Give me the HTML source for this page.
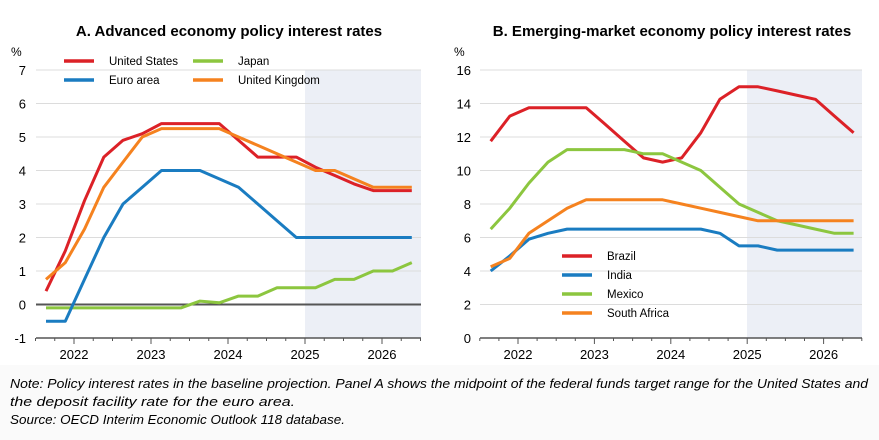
<!DOCTYPE html>
<html><head><meta charset="utf-8"><style>
html,body{margin:0;padding:0;background:#fff;}
svg{display:block;font-family:"Liberation Sans",Arial,sans-serif;}
</style></head><body>
<svg id="s" width="879" height="440" viewBox="0 0 879 440" xmlns="http://www.w3.org/2000/svg">
<rect x="0" y="0" width="879" height="440" fill="#fff"/>
<rect x="0" y="365" width="879" height="75" fill="#fafafa"/>
<text x="229" y="36" font-size="15" font-weight="bold" text-anchor="middle" fill="#000">A. Advanced economy policy interest rates</text>
<text x="672" y="36" font-size="15" font-weight="bold" text-anchor="middle" fill="#000">B. Emerging-market economy policy interest rates</text>
<g id="A"></g><g id="B"></g>
<g font-style="italic" font-size="13" fill="#000">
<text x="10" y="388" textLength="858" lengthAdjust="spacingAndGlyphs">Note: Policy interest rates in the baseline projection. Panel A shows the midpoint of the federal funds target range for the United States and</text>
<text x="10" y="406" textLength="285" lengthAdjust="spacingAndGlyphs">the deposit facility rate for the euro area.</text>
<text x="10" y="424" textLength="335" lengthAdjust="spacingAndGlyphs">Source: OECD Interim Economic Outlook 118 database.</text>
</g>
</svg>
<script>
const NS="http://www.w3.org/2000/svg";
function el(p,t,a,txt){const e=document.createElementNS(NS,t);for(const k in a)e.setAttribute(k,a[k]);if(txt!==undefined)e.textContent=txt;p.appendChild(e);return e;}
function panel(g,o){
 const {x0,x1,ymin,ymax,yTop,yBot,step,y2022,qw,p0,shade,zeroLine}=o;
 const Y=v=>yBot-(v-ymin)/(ymax-ymin)*(yBot-yTop);
 el(g,'rect',{x:shade,y:yTop,width:x1-shade,height:yBot-yTop,fill:'#eceff6'});
 for(let v=ymin;v<=ymax;v+=step){
  if(v!==ymin) el(g,'line',{x1:x0,x2:x1,y1:Y(v),y2:Y(v),stroke:'#dcdcdc','stroke-width':1});
  el(g,'text',{x:o.lx,y:Y(v)+5,'font-size':13,'text-anchor':'end',fill:'#000'},String(v));
 }
 el(g,'text',{x:o.px,y:56,'font-size':12,fill:'#000'},'%');
 el(g,'line',{x1:x0,x2:x1,y1:yBot,y2:yBot,stroke:'#555','stroke-width':1.5});
 for(let i=-2;i<22;i++){const x=y2022+i*qw; if(x<x0-0.5||x>x1+0.5)continue;
  el(g,'line',{x1:x,x2:x,y1:yBot,y2:yBot+(i%4==0?6:3),stroke:'#555','stroke-width':1});}
 for(let k=0;k<5;k++) el(g,'text',{x:y2022+4*k*qw,y:yBot+21,'font-size':13,'text-anchor':'middle',fill:'#000'},String(2022+k));
 if(zeroLine) el(g,'line',{x1:x0,x2:x1,y1:Y(0),y2:Y(0),stroke:'#555','stroke-width':2});
 for(const s of o.series){
  const pts=s.d.map((v,i)=>(p0+i*qw).toFixed(1)+','+Y(v).toFixed(1)).join(' ');
  el(g,'polyline',{points:pts,fill:'none',stroke:s.c,'stroke-width':3,'stroke-linejoin':'round'});
 }
 for(const l of o.legend){
  el(g,'line',{x1:l.x,x2:l.x+30,y1:l.y,y2:l.y,stroke:l.c,'stroke-width':3.5});
  el(g,'text',{x:l.x+45,y:l.y+4,'font-size':11.5,fill:'#000'},l.t);
 }
}
const R='#dc2127',Bl='#1a7cc1',G='#8cc63f',O='#f5821f';
panel(document.getElementById('A'),{x0:36,x1:421,ymin:-1,ymax:7,yTop:70,yBot:338,step:1,y2022:74,qw:19.25,p0:46,shade:305,zeroLine:true,lx:26,px:11,
 series:[
 {c:G,d:[-0.1,-0.1,-0.1,-0.1,-0.1,-0.1,-0.1,-0.1,0.1,0.05,0.25,0.25,0.5,0.5,0.5,0.75,0.75,1,1,1.25]},
 {c:Bl,d:[-0.5,-0.5,0.75,2,3,3.5,4,4,4,3.75,3.5,3,2.5,2,2,2,2,2,2,2]},
 {c:R,d:[0.4,1.6,3.1,4.4,4.9,5.1,5.4,5.4,5.4,5.4,4.9,4.4,4.4,4.4,4.1,3.85,3.6,3.4,3.4,3.4]},
 {c:O,d:[0.75,1.25,2.25,3.5,4.25,5,5.25,5.25,5.25,5.25,5,4.75,4.5,4.25,4,4,3.75,3.5,3.5,3.5]}],
 legend:[{x:64,y:61,c:R,t:'United States'},{x:64,y:80,c:Bl,t:'Euro area'},{x:193,y:61,c:G,t:'Japan'},{x:193,y:80,c:O,t:'United Kingdom'}]});
panel(document.getElementById('B'),{x0:480,x1:862,ymin:0,ymax:16,yTop:70,yBot:338,step:2,y2022:518,qw:19.1,p0:490.7,shade:747,zeroLine:false,lx:471,px:454,
 series:[
 {c:R,d:[11.75,13.25,13.75,13.75,13.75,13.75,12.75,11.75,10.75,10.5,10.75,12.25,14.25,15,15,14.75,14.5,14.25,13.25,12.25]},
 {c:Bl,d:[4,4.9,5.9,6.25,6.5,6.5,6.5,6.5,6.5,6.5,6.5,6.5,6.25,5.5,5.5,5.25,5.25,5.25,5.25,5.25]},
 {c:G,d:[6.5,7.75,9.25,10.5,11.25,11.25,11.25,11.25,11,11,10.5,10,9,8,7.5,7,6.75,6.5,6.25,6.25]},
 {c:O,d:[4.25,4.75,6.25,7,7.75,8.25,8.25,8.25,8.25,8.25,8,7.75,7.5,7.25,7,7,7,7,7,7]}],
 legend:[{x:562,y:256,c:R,t:'Brazil'},{x:562,y:275,c:Bl,t:'India'},{x:562,y:294,c:G,t:'Mexico'},{x:562,y:313,c:O,t:'South Africa'}]});
</script>
</body></html>
